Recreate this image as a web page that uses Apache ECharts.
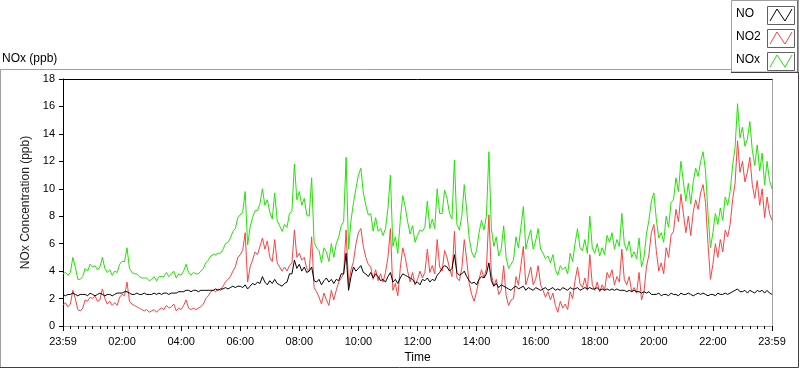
<!DOCTYPE html>
<html>
<head>
<meta charset="utf-8">
<script src="https://cdn.jsdelivr.net/npm/echarts@6/dist/echarts.min.js"></script>
<style>
html,body{margin:0;padding:0;background:#ffffff;}
#chart{width:800px;height:369px;}
</style>
</head>
<body>
<div id="chart"></div>
<script>
// ---- DATA (one value every 5 minutes, from 23:59 to 23:59) ----
const stepMinutes = 5;

const noValues = [
 2.3,2.2,2.3,2.3,2.4,2.3,2.2,2.3,2.3,2.3,2.2,2.4,
 2.3,2.2,2.3,2.4,2.3,2.2,2.3,2.3,2.2,2.3,2.4,2.4,
 2.4,2.5,2.5,2.4,2.3,2.3,2.4,2.3,2.3,2.4,2.3,2.3,
 2.3,2.4,2.3,2.4,2.3,2.4,2.4,2.3,2.4,2.4,2.4,2.5,
 2.5,2.5,2.6,2.6,2.5,2.6,2.6,2.5,2.6,2.6,2.6,2.6,
 2.6,2.6,2.7,2.6,2.7,2.7,2.8,2.7,2.8,2.9,2.8,2.9,
 2.9,2.8,3.0,2.7,2.9,3.1,3.0,3.2,3.1,3.6,3.2,3.0,
 3.3,3.1,3.4,3.1,3.0,2.9,3.1,3.2,3.8,3.8,4.8,4.2,
 4.5,4.0,4.3,3.9,4.0,4.3,3.3,3.2,3.4,3.0,3.3,3.5,
 3.2,3.4,3.1,3.4,3.3,3.8,3.8,5.3,2.6,3.6,4.3,4.0,
 4.2,4.4,3.9,3.8,3.6,3.9,3.5,3.8,3.6,3.3,3.4,3.2,
 3.6,3.9,3.2,3.4,3.1,3.5,3.8,3.7,3.6,3.5,3.4,3.1,
 3.2,3.0,3.4,3.3,3.5,3.2,3.4,3.3,3.7,3.9,4.2,4.4,
 4.3,4.0,4.2,5.2,3.9,3.7,3.8,4.0,3.6,3.3,3.1,3.2,
 3.0,3.4,3.6,3.5,3.8,4.6,3.3,2.9,3.1,2.8,3.0,2.9,
 2.8,2.7,2.6,2.8,2.9,2.7,2.8,2.9,2.6,2.8,2.7,2.6,
 2.8,2.7,2.6,2.7,2.8,2.6,2.7,2.8,2.6,2.7,2.6,2.8,
 2.7,2.6,2.8,2.7,2.7,2.8,2.6,2.7,2.8,2.7,2.8,2.7,
 2.7,2.8,2.6,2.7,2.6,2.7,2.6,2.7,2.6,2.7,2.6,2.6,
 2.6,2.5,2.6,2.5,2.6,2.5,2.5,2.4,2.5,2.4,2.5,2.3,
 2.3,2.3,2.4,2.2,2.3,2.3,2.2,2.4,2.3,2.3,2.2,2.4,
 2.3,2.3,2.4,2.3,2.2,2.3,2.4,2.3,2.4,2.3,2.2,2.3,
 2.3,2.2,2.4,2.3,2.3,2.4,2.3,2.4,2.5,2.6,2.7,2.5,
 2.5,2.6,2.4,2.6,2.5,2.4,2.6,2.5,2.6,2.4,2.6,2.4,
 2.3
];

const no2Values = [
 1.5,1.7,1.4,1.6,2.6,2.0,1.2,1.1,1.3,1.9,1.8,2.1,
 2.0,2.2,1.8,1.9,2.7,2.0,1.6,1.8,1.5,1.7,1.5,2.1,
 2.3,2.2,3.2,1.8,1.6,1.5,1.4,1.3,1.2,1.1,1.2,1.0,
 1.1,1.2,1.0,1.2,1.3,1.2,1.5,1.3,1.4,1.6,1.1,1.3,
 1.2,1.5,1.9,1.3,1.2,1.3,1.2,1.3,1.4,1.6,2.0,2.2,
 2.5,2.6,2.5,2.7,2.6,2.9,3.2,3.4,3.6,4.0,4.3,5.0,
 5.2,5.5,6.8,3.2,4.3,4.8,5.4,5.2,5.8,6.4,5.6,6.2,
 5.0,4.7,6.3,4.6,4.3,4.0,4.3,4.0,4.4,4.6,7.0,5.0,
 5.3,4.8,5.0,4.2,4.0,6.5,2.8,2.5,2.1,1.6,2.4,1.9,
 1.5,2.6,1.9,2.6,3.2,3.5,3.8,7.0,3.0,4.1,4.7,6.0,
 6.8,7.1,5.8,5.0,4.5,4.3,3.4,4.1,3.3,3.8,3.2,3.9,
 5.0,7.1,2.6,3.1,2.2,4.2,5.7,5.0,4.0,3.2,3.9,3.0,
 3.4,4.0,3.5,3.9,5.6,3.9,4.4,3.8,6.3,4.3,4.0,5.5,
 5.0,4.2,3.6,6.9,3.5,3.3,4.2,6.3,4.8,3.1,2.3,1.8,
 2.5,3.4,4.1,3.5,4.2,8.1,3.8,2.9,3.4,2.3,2.6,4.4,
 2.2,1.5,1.9,2.0,3.6,3.0,4.4,5.8,3.0,3.6,4.3,3.0,
 3.4,4.4,3.0,2.6,2.1,2.5,1.9,2.4,1.5,1.0,1.8,1.3,
 1.6,1.2,2.5,2.0,3.3,4.3,3.1,2.8,3.5,2.6,5.2,3.0,
 2.6,3.2,2.5,3.0,2.6,3.9,3.5,4.1,3.0,3.6,3.2,5.6,
 3.4,3.0,3.6,2.5,2.8,2.4,3.9,1.9,2.5,4.3,5.2,6.8,
 7.4,5.5,4.0,4.6,3.8,5.7,5.0,6.6,6.9,8.5,7.6,9.6,
 8.2,6.8,8.0,6.6,8.3,9.2,8.5,9.7,10.3,9.0,6.0,3.4,
 4.5,6.0,5.0,6.3,5.4,7.0,6.5,7.4,9.2,10.4,13.5,11.2,
 12.0,10.5,11.2,12.3,10.3,9.3,10.6,8.8,10.0,7.9,9.4,8.2,
 7.7
];

const noxValues = [
 3.8,3.9,3.7,3.9,5.0,4.3,3.4,3.4,3.6,4.2,4.0,4.5,
 4.3,4.4,4.1,4.3,5.0,4.2,3.9,4.1,3.7,4.0,3.9,4.5,
 4.7,4.7,5.7,4.2,3.9,3.8,3.8,3.6,3.5,3.5,3.5,3.3,
 3.4,3.6,3.3,3.6,3.6,3.6,3.9,3.6,3.8,4.0,3.5,3.8,
 3.7,4.0,4.5,3.9,3.7,3.9,3.8,3.8,4.0,4.2,4.6,4.8,
 5.1,5.2,5.2,5.3,5.3,5.6,6.0,6.1,6.4,6.9,7.1,7.9,
 8.1,8.3,9.8,5.9,7.2,7.9,8.4,8.4,8.9,10.0,8.8,9.2,
 8.3,7.8,9.7,7.7,7.3,6.9,7.4,7.2,8.2,8.4,11.8,9.2,
 9.8,8.8,9.3,8.1,8.0,10.8,6.1,5.7,5.5,4.6,5.7,5.4,
 4.7,6.0,5.0,6.0,6.5,7.3,7.6,12.3,5.6,7.7,9.0,10.0,
 11.0,11.5,9.7,8.8,8.1,8.2,6.9,7.9,6.9,7.1,6.6,7.1,
 8.6,11.0,5.8,6.5,5.3,7.7,9.5,8.7,7.6,6.7,7.3,6.1,
 6.6,7.0,6.9,7.2,9.1,7.1,7.8,7.1,10.0,8.2,8.2,9.9,
 9.3,8.2,7.8,12.1,7.4,7.0,8.0,10.3,8.4,6.4,5.4,5.0,
 5.5,6.8,7.7,7.0,8.0,12.7,7.1,5.8,6.5,5.1,5.6,7.3,
 5.0,4.2,4.5,4.8,6.5,5.7,7.2,8.7,5.6,6.4,7.0,5.6,
 6.2,7.1,5.6,5.3,4.9,5.1,4.6,5.2,4.1,3.7,4.4,4.1,
 4.3,3.8,5.3,4.7,6.0,7.1,5.7,5.5,6.3,5.3,8.0,5.7,
 5.3,6.0,5.1,5.7,5.2,6.6,6.1,6.8,5.6,6.3,5.8,8.2,
 6.0,5.5,6.2,5.0,5.4,4.9,6.4,4.3,5.0,6.7,7.7,9.1,
 9.7,7.8,6.4,6.8,6.1,8.0,7.2,9.0,9.2,10.8,9.8,12.0,
 10.5,9.1,10.4,8.9,10.5,11.5,10.9,12.0,12.7,11.3,8.2,5.7,
 6.8,8.2,7.4,8.6,7.7,9.4,8.8,9.8,11.7,13.0,16.2,13.7,
 14.5,13.1,13.6,14.9,12.8,11.7,13.2,11.3,12.6,10.3,12.0,10.6,
 10.0
];

const seriesNames = ['NO', 'NO2', 'NOx'];
const timeTickLabels = ['23:59','02:00','04:00','06:00','08:00','10:00','12:00',
                        '14:00','16:00','18:00','20:00','22:00','23:59'];
const yTickMax = 18;

// ---- STYLE ----
const FONT = "'Liberation Sans', Arial, sans-serif";
const colors = { 'NO': '#000000', 'NO2': '#ff4040', 'NOx': '#1ee600' };

function pairs(values) {
  return values.map((v, i) => [i * stepMinutes, v]);
}

const chart = echarts.init(document.getElementById('chart'), null, { renderer: 'canvas' });

// legend drawn as boxes with a zigzag glyph, like the original
const legendGraphics = [];
legendGraphics.push({
  type: 'rect', z: 10,
  shape: { x: 731.5, y: 0.5, width: 66, height: 71.5 },
  style: { fill: '#ffffff', stroke: '#a0a0a0', lineWidth: 1 }
});
legendGraphics.push({
  type: 'polyline', z: 11,
  shape: { points: [[798, 0], [798, 72.5], [731, 72.5]] },
  style: { fill: null, stroke: '#404040', lineWidth: 1 }
});
seriesNames.forEach((name, i) => {
  const top = 6 + i * 23;
  legendGraphics.push({
    type: 'text', z: 12, left: 736, top: top + 2,
    style: { text: name, font: '12px ' + FONT, fill: '#000000' }
  });
  legendGraphics.push({
    type: 'rect', z: 12,
    shape: { x: 767.5, y: top + 0.5, width: 27, height: 18 },
    style: { fill: '#ffffff', stroke: '#606060', lineWidth: 1 }
  });
  legendGraphics.push({
    type: 'polyline', z: 13,
    shape: { points: [[770, top + 15], [777, top + 3], [785, top + 15], [792, top + 3]] },
    style: { fill: null, stroke: colors[name], lineWidth: 1 }
  });
});

const option = {
  backgroundColor: '#ffffff',
  animation: false,
  title: {
    text: 'NOx (ppb)',
    left: 2, top: 53,
    padding: 0,
    textStyle: { fontFamily: FONT, fontSize: 12, fontWeight: 'normal', color: '#000000' }
  },
  grid: { left: 63, right: 28, top: 79, bottom: 40, containLabel: false },
  xAxis: [
    {
      type: 'value', min: 0, max: 1440, interval: 120,
      name: 'Time', nameLocation: 'middle', nameGap: 26,
      nameTextStyle: { fontFamily: FONT, fontSize: 12, color: '#000000' },
      axisLine: { show: true, onZero: false, lineStyle: { color: '#a0a0a0', width: 1 } },
      axisTick: { show: true, inside: false, length: 5, lineStyle: { color: '#000000', width: 1 } },
      minorTick: { show: true, splitNumber: 8, length: 3, lineStyle: { color: '#000000', width: 1 } },
      splitLine: { show: false },
      minorSplitLine: { show: false },
      axisLabel: {
        margin: 10, fontFamily: FONT, fontSize: 11, color: '#000000',
        showMinLabel: true, showMaxLabel: true,
        formatter: (v) => timeTickLabels[Math.round(v / 120)]
      }
    },
    {
      type: 'value', min: 0, max: 1440, position: 'top',
      axisLine: { show: true, onZero: false, lineStyle: { color: '#000000', width: 1 } },
      axisTick: { show: false }, axisLabel: { show: false }, splitLine: { show: false }
    }
  ],
  yAxis: [
    {
      type: 'value', min: 0, max: yTickMax, interval: 2,
      name: 'NOx Concentration (ppb)', nameLocation: 'middle', nameGap: 23,
      nameTextStyle: { fontFamily: FONT, fontSize: 12, color: '#202020' },
      axisLine: { show: true, onZero: false, lineStyle: { color: '#000000', width: 1 } },
      axisTick: { show: true, inside: false, length: 4, lineStyle: { color: '#000000', width: 1 } },
      splitLine: { show: false },
      axisLabel: { margin: 8, fontFamily: FONT, fontSize: 11, color: '#000000' }
    },
    {
      type: 'value', min: 0, max: yTickMax, position: 'right',
      axisLine: { show: true, onZero: false, lineStyle: { color: '#a0a0a0', width: 1 } },
      axisTick: { show: false }, axisLabel: { show: false }, splitLine: { show: false }
    }
  ],
  series: [
    { name: 'NOx', type: 'line', data: pairs(noxValues), showSymbol: false, symbol: 'none',
      lineStyle: { color: colors['NOx'], width: 1 }, itemStyle: { color: colors['NOx'] }, z: 2 },
    { name: 'NO2', type: 'line', data: pairs(no2Values), showSymbol: false, symbol: 'none',
      lineStyle: { color: colors['NO2'], width: 1 }, itemStyle: { color: colors['NO2'] }, z: 3 },
    { name: 'NO', type: 'line', data: pairs(noValues), showSymbol: false, symbol: 'none',
      lineStyle: { color: colors['NO'], width: 1 }, itemStyle: { color: colors['NO'] }, z: 4 }
  ],
  graphic: [
    { type: 'polyline', z: 5, shape: { points: [[0.5, 368], [0.5, 69.5], [731, 69.5]] },
      style: { fill: null, stroke: '#a0a0a0', lineWidth: 1 } },
    { type: 'polyline', z: 5, shape: { points: [[0, 367.5], [798.5, 367.5], [798.5, 72]] },
      style: { fill: null, stroke: '#404040', lineWidth: 1 } }
  ].concat(legendGraphics)
};

chart.setOption(option);
</script>
</body>
</html>
